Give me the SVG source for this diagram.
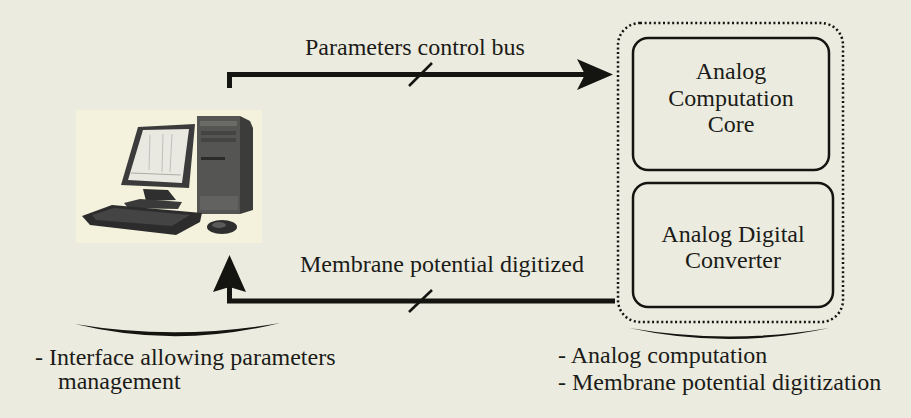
<svg xmlns="http://www.w3.org/2000/svg" width="911" height="418" viewBox="0 0 911 418">
  <style>
    text { font-family: "Liberation Serif", "DejaVu Serif", "Times New Roman", serif; font-size: 24px; fill: #1b1b18; }
    .mid { text-anchor: middle; }
    .bus { fill: none; stroke: #141410; stroke-width: 5; }
    .slash { fill: none; stroke: #141410; stroke-width: 2.5; }
    .head { fill: #141410; }
    .box { fill: none; stroke: #141410; stroke-width: 2.5; }
    .group { fill: none; stroke: #141410; stroke-width: 2.5; stroke-dasharray: 2 2.6; }
    .brace { fill: #141410; }
  </style>

  <rect width="911" height="418" fill="#ebebdf"/>

  <!-- Workstation -->
  <g id="computer">
    <rect x="76" y="110" width="186" height="133" fill="#f4f2dc"/>
    <!-- tower -->
    <polygon points="240,116 250,121 253,128 253,210 240,214" fill="#3c3c3a"/>
    <rect x="197" y="116" width="43" height="98" fill="#555553"/>
    <rect x="200" y="121" width="37" height="5" fill="#6a6a67"/>
    <rect x="201" y="131" width="35" height="4" fill="#444442"/>
    <rect x="201" y="138" width="35" height="4" fill="#444442"/>
    <rect x="201" y="157" width="24" height="3" fill="#2b2b2a"/>
    <rect x="200" y="196" width="38" height="14" fill="#626260"/>
    <!-- monitor -->
    <polygon points="138,127 195,124 189,188 121,185" fill="#3b3b3b"/>
    <polygon points="143,130 189,129 182,183 128,180" fill="#e9e9e2"/>
    <line x1="150" y1="135" x2="149" y2="170" stroke="#b5b5ae" stroke-width="0.8"/>
    <line x1="163" y1="134" x2="162" y2="172" stroke="#b5b5ae" stroke-width="0.8"/>
    <line x1="172" y1="134" x2="170" y2="172" stroke="#b5b5ae" stroke-width="0.8"/>
    <line x1="131" y1="173" x2="181" y2="175" stroke="#9d9d96" stroke-width="0.8"/>
    <polygon points="143,189 168,190 176,200 146,201" fill="#2f2f2f"/>
    <polygon points="124,203 140,199 182,202 178,209 128,208" fill="#3a3a3a"/>
    <!-- keyboard -->
    <polygon points="82,216 112,205 202,213 200,222 176,235 90,225" fill="#2c2c2c"/>
    <polygon points="92,215 114,208 190,215 172,226 96,220" fill="#444444"/>
    <!-- mouse -->
    <ellipse cx="222" cy="227" rx="15" ry="7" fill="#2e2e2e"/>
    <ellipse cx="219" cy="225" rx="7" ry="3" fill="#5a5a5a"/>
  </g>

  <!-- Processing module -->
  <g id="module">
    <rect class="group" x="618" y="23" width="225" height="299" rx="22"/>
  </g>
  <g id="core">
    <rect class="box" x="633" y="38" width="196" height="132" rx="15"/>
    <text class="mid" x="731" y="79">Analog</text>
    <text class="mid" x="731" y="106">Computation</text>
    <text class="mid" x="731" y="132">Core</text>
  </g>
  <g id="adc">
    <rect class="box" x="633" y="183" width="200" height="124" rx="15"/>
    <text class="mid" x="733" y="242">Analog Digital</text>
    <text class="mid" x="733" y="268">Converter</text>
  </g>

  <!-- Buses -->
  <g id="connectors">
    <path class="bus" d="M229.5,88 V74.5 H590"/>
    <polygon class="head" points="613,74.5 577,59 585,74.5 577,90"/>
    <line class="slash" x1="409" y1="86" x2="432" y2="63"/>
    <text x="305" y="55">Parameters control bus</text>

    <path class="bus" d="M615,301 H229.5 V280"/>
    <polygon class="head" points="229.5,255 213,292 229.5,287 246,292"/>
    <line class="slash" x1="409" y1="312" x2="432" y2="290"/>
    <text x="300" y="272">Membrane potential digitized</text>
  </g>

  <!-- Captions -->
  <g id="caption-left">
    <path class="brace" d="M75,324 Q177,349 280,323 Q177,341 75,324 Z"/>
    <text x="35" y="365">- Interface allowing parameters</text>
    <text x="58" y="389">management</text>
  </g>
  <g id="caption-right">
    <path class="brace" d="M629,328 Q729,350 829,328 Q729,345 629,328 Z"/>
    <text x="558" y="363">- Analog computation</text>
    <text x="558" y="390">- Membrane potential digitization</text>
  </g>
</svg>
